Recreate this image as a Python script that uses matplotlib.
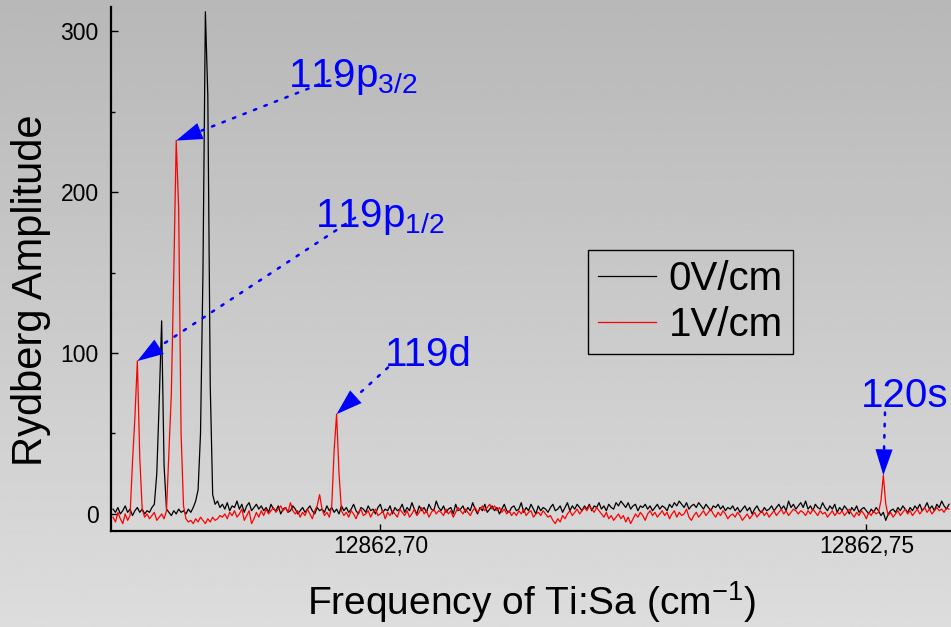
import numpy as np
import matplotlib
matplotlib.use('Agg')
import matplotlib.pyplot as plt
from matplotlib.ticker import FixedLocator, FuncFormatter

plt.rcParams['font.family'] = ['Liberation Sans', 'DejaVu Sans']
plt.rcParams['mathtext.fontset'] = 'custom'
plt.rcParams['mathtext.rm'] = 'Liberation Sans'

## Rydberg spectra vs. Ti:Sa frequency, sampled every 0.00025 cm^-1 starting at f0
f0 = 12862.6725
step = 0.00025

amp_0V = [
    3, 1, 4, 0, 2, 5, 1, 3, -1, 2, 4, 1, 3, 0, 2,
    1, 4, 6, 25, 70, 120, 30, 3, 1, -1, 2, 0, 3, 1, 2,
    0, 3, 1, 4, 8, 15, 50, 150, 312, 260, 80, 12, 6, 8, 4,
    6, 3, 7, 2, 5, 4, 8, 3, 6, 1, 5, 7, 2, 4, 6,
    3, 5, 2, 4, 1, 6, 3, 2, 5, 0, 3, 4, 1, 2, 5,
    3, 0, 2, 4, 1, 3, 5, 2, 0, 4, 2, 3, 1, 5, 2,
    4, 1, 3, 0, 5, 2, 4, 1, 3, 6, 2, 0, 4, 3, 1,
    5, 2, 3, 0, 4, 6, 1, 3, 2, 5, 0, 4, 2, 3, 6,
    1, 4, 2, 7, 3, 0, 5, 2, 4, 1, 6, 3, 2, 8, 4,
    2, 5, 1, 3, 4, 0, 6, 2, 3, 5, 1, 4, 2, 7, 3,
    0, 4, 2, 6, 1, 3, 5, 2, 4, 0, 3, 6, 2, 1, 4,
    5, 2, 3, 7, 1, 4, 2, 6, 3, 0, 5, 2, 4, 3, 1,
    4, 6, 2, 3, 5, 1, 4, 7, 2, 5, 3, 6, 4, 2, 5,
    3, 6, 2, 5, 4, 7, 3, 5, 2, 6, 4, 3, 7, 5, 8,
    6, 4, 7, 3, 5, 6, 2, 5, 4, 6, 3, 5, 2, 4, 6,
    3, 5, 4, 2, 6, 4, 7, 5, 8, 6, 4, 7, 3, 5, 6,
    4, 7, 5, 3, 6, 4, 2, 5, 4, 6, 3, 5, 2, 4, 3,
    5, 2, 4, 1, 3, 5, 2, 4, 0, 3, 5, 2, 1, 4, 2,
    3, 5, 2, 4, 6, 3, 5, 2, 8, 4, 6, 3, 5, 7, 4,
    8, 3, 5, 2, 6, 4, 3, 7, 4, 2, 5, 3, 6, 1, 4,
    2, 5, 3, 0, 4, 2, 5, 1, 3, 4, 2, 0, 3, 1, 4,
    2, -1, 1, -4, 0, 2, 3, 1, 4, 2, 5, 3, 1, 4, 2,
    5, 3, 6, 2, 4, 7, 3, 5, 2, 6, 4, 8, 5, 3, 6,
]

amp_1V = [
    -2, -5, 1, -3, -6, 0, -4, -1, 32, 60, 95, 35, 3, -2, 0,
    -3, -1, 1, -4, -2, 0, -3, 2, 38, 75, 150, 232, 190, 50, 5,
    -3, -5, -4, -6, -3, -5, -2, -4, -6, -3, -5, -2, -4, -3, -1,
    -2, 0, -3, 1, -1, 2, -2, 0, 3, -4, -1, 2, -6, -3, 1,
    -2, 2, -1, 3, 0, 2, 4, 1, 3, 5, 2, 4, 1, 7, 2,
    0, 2, -2, 1, -1, 3, 0, -3, 2, 5, 12, 3, -1, 1, -2,
    5, 40, 62, 25, 2, -1, 1, -2, 2, 0, -3, 1, 3, -1, 0,
    2, -2, 1, 3, -1, 0, 2, -3, 1, -1, 2, 0, -2, 3, 1,
    -1, 2, -2, 0, 3, -1, 1, 4, 0, 2, -2, 1, 3, 0, 2,
    1, -1, 3, 0, 2, -2, 1, 4, 2, 0, 3, 1, -1, 2, 4,
    1, 3, 5, 2, 4, 6, 3, 5, 2, 4, 1, 3, 0, 2, -1,
    1, -1, 2, 0, 3, -1, 1, 2, -2, 0, 1, -1, 2, 0, -2,
    -1, -4, -6, -3, -5, -1, -3, 0, 2, -1, 1, 3, 0, 2, 4,
    2, 5, 3, 1, 4, 2, 0, -2, 1, -3, -1, -4, -2, 0, -3,
    -1, -5, -2, -6, -3, 0, -2, 1, -1, -4, 0, 2, -1, 1, -2,
    0, 2, -1, 1, -3, 0, 2, -2, 1, -1, 0, 3, -2, -4, -1,
    1, -2, 0, 2, -1, 1, 3, 0, -2, 1, -1, 2, 0, -3, -1,
    0, -2, 1, -1, -4, -2, 0, -3, -1, 1, -2, 0, 2, -1, 1,
    -2, 0, 2, -1, 1, 3, 0, 2, -1, 1, 3, 2, 0, 2, 1,
    -1, 2, 0, 3, 1, -1, 2, 0, 1, -2, 0, 2, -1, 1, 0,
    2, -1, 1, 3, 0, -2, 1, -1, 2, 0, -3, 1, -1, 2, 0,
    1, 8, 24, 6, -1, 1, -2, 0, 2, -1, 1, 3, 0, 2, -1,
    1, 3, 0, 2, 4, 1, 3, 0, 2, 4, 2, 3, 1, 4, 3,
]

freq_0V = f0 + step * np.arange(len(amp_0V))
freq_1V = f0 + step * np.arange(len(amp_1V))

# peak labels: text, index of the peak in amp_1V, start of the dotted arrow, text position
labels = ['119p$_\\mathrm{3/2}$', '119p$_\\mathrm{1/2}$', '119d', '120s']
peak_idx = [26, 10, 92, 317]
arrow_from = [(12862.69585, 272), (12862.6974, 184), (12862.70079, 91), (12862.75192, 63)]
text_at = [(12862.6905, 265), (12862.69328, 178), (12862.70048, 92), (12862.74940, 66.5)]

fig = plt.figure(figsize=(9.51, 6.27), dpi=100)

# grey gradient background
bg = fig.add_axes([0, 0, 1, 1], zorder=-10)
grad = np.linspace(0.72, 0.865, 256).reshape(-1, 1)
bg.imshow(grad, aspect='auto', cmap='gray', vmin=0, vmax=1, extent=[0, 1, 0, 1], origin='upper')
bg.axis('off')

ax = fig.add_axes([111/951, 96/627, 1 - 111/951, 524/627])
ax.set_facecolor('none')

ax.plot(freq_0V, amp_0V, color='black', lw=0.9, label='0V/cm')
ax.plot(freq_1V, amp_1V, color='red', lw=0.9, label='1V/cm')

ax.set_xlim(12862.67229, 12862.75871)
ax.set_ylim(-10.6, 315)

for s in ['top', 'right']:
    ax.spines[s].set_visible(False)
for s in ['left', 'bottom']:
    ax.spines[s].set_linewidth(1.6)

ax.xaxis.set_major_locator(FixedLocator([12862.70, 12862.75]))
ax.xaxis.set_major_formatter(FuncFormatter(lambda v, p: f'{v:.2f}'.replace('.', ',')))
ax.set_yticks([0, 100, 200, 300])
ax.set_yticks([50, 150, 250], minor=True)
ax.tick_params(axis='both', which='major', direction='in', length=5, width=1, labelsize=16.5)
ax.tick_params(axis='y', which='major', pad=9)
ax.tick_params(axis='x', which='major', pad=3)
ax.tick_params(axis='y', which='minor', direction='in', length=3, width=1)

ax.set_xlabel('Frequency of Ti:Sa (cm$^\\mathrm{-1}$)', fontsize=28, labelpad=15.5)
ax.set_ylabel('Rydberg Amplitude', fontsize=30)
ax.yaxis.set_label_coords(-0.072, 0.46)

for lab, i, start, pos in zip(labels, peak_idx, arrow_from, text_at):
    tip = (freq_1V[i], amp_1V[i])
    ax.annotate('', xy=tip, xytext=start,
                arrowprops=dict(arrowstyle='-', color='blue', lw=1.8,
                                linestyle=(0, (1, 3.5)), shrinkA=0, shrinkB=12))
    ax.annotate('', xy=tip, xytext=start,
                arrowprops=dict(arrowstyle='-|>,head_length=0.85,head_width=0.28',
                                color='blue', lw=0, mutation_scale=22,
                                shrinkA=0, shrinkB=0))
    ax.text(pos[0], pos[1], lab, color='blue', fontsize=29, va='baseline', ha='left')

leg = ax.legend(loc='upper left', bbox_to_anchor=(588/951, 1 - 250/627),
                bbox_transform=fig.transFigure, borderaxespad=0,
                fontsize=29, handlelength=1.45, labelspacing=0.2,
                fancybox=False, framealpha=1, borderpad=0.25, handletextpad=0.3)
leg.get_frame().set_facecolor('none')
leg.get_frame().set_edgecolor('black')
leg.get_frame().set_linewidth(1.0)

fig.savefig('out.png', dpi=100)
